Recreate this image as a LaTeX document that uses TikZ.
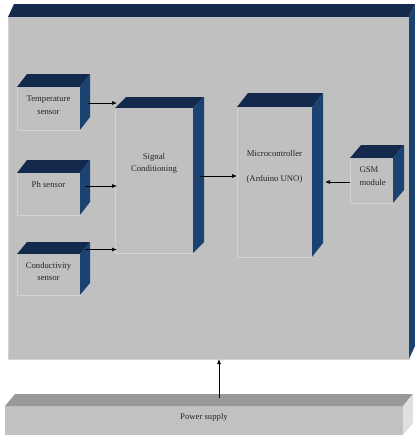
\documentclass[tikz,border=0pt]{standalone}
\usepackage{fontspec}
\setmainfont{Liberation Serif}
\usetikzlibrary{calc, arrows.meta}
\definecolor{boxfront}{HTML}{C0C0C0}
\definecolor{boxtop}{HTML}{142A4C}
\definecolor{boxside}{HTML}{1B4372}
\definecolor{boxedge}{HTML}{D4D4D4}

% top and right faces of a block: node, depth x, depth y, top colour, side colour
\newcommand{\blockfaces}[5]{%
  \fill[#4] (#1.north west) -- ++(#2,#3) -- ($(#1.north east)+(#2,#3)$) -- (#1.north east) -- cycle;
  \fill[#5] (#1.north east) -- ++(#2,#3) -- ($(#1.south east)+(#2,#3)$) -- (#1.south east) -- cycle;
}

\begin{document}
\begin{tikzpicture}[x=1pt, y=-1pt,
    face/.style={draw=boxedge, fill=boxfront, line width=0.6pt, outer sep=0pt, inner sep=0pt},
    lbl/.style={font=\fontsize{8.7}{12.5}\selectfont, align=center, text=black!85},
    arr/.style={-{Latex[length=5pt,width=4pt]}, line width=0.7pt}]
    \useasboundingbox (0,0) rectangle (415,437);
    % Board
    \node[face, minimum width=401pt, minimum height=342pt] (board) at (208.5,188) {};
    \blockfaces{board}{6}{-13}{boxtop}{boxside}
    % Sensors
    \node[face, minimum width=63pt, minimum height=43pt] (temp) at (48.5,108.5) {};
    \blockfaces{temp}{10}{-13}{boxtop}{boxside}
    \node[face, minimum width=63pt, minimum height=42pt] (ph) at (48.5,194) {};
    \blockfaces{ph}{10}{-13}{boxtop}{boxside}
    \node[face, minimum width=63pt, minimum height=41pt] (cond) at (48.5,274.5) {};
    \blockfaces{cond}{10}{-12}{boxtop}{boxside}
    % Signal conditioning, microcontroller, GSM
    \node[face, minimum width=78pt, minimum height=145pt] (sig) at (154,180.5) {};
    \blockfaces{sig}{11}{-11}{boxtop}{boxside}
    \node[face, minimum width=75pt, minimum height=150pt] (mcu) at (274.5,182) {};
    \blockfaces{mcu}{11}{-14}{boxtop}{boxside}
    \node[face, minimum width=43pt, minimum height=45pt] (gsm) at (371.5,180.5) {};
    \blockfaces{gsm}{11}{-13}{boxtop}{boxside}
    % Power supply
    \node[face, draw=none, fill=boxfront!98!white, minimum width=398pt, minimum height=29pt] (power) at (204,420.5) {};
    \blockfaces{power}{10}{-12}{black!40}{black!12}
    % Labels
    \node[lbl] (temptxt) at ([yshift=3.5pt]temp.center) {Temperature\\sensor};
    \node[lbl] (phtxt) at ([yshift=9pt]ph.center) {Ph sensor};
    \node[lbl] (condtxt) at ([yshift=3pt]cond.center) {Conductivity\\sensor};
    \node[lbl] (sigtxt) at ([yshift=17pt]sig.center) {Signal\\Conditioning};
    \node[lbl] (mcutxt) at ([yshift=15.5pt]mcu.center) {Microcontroller\\[12.5pt](Arduino UNO)};
    \node[lbl, align=left, anchor=west] (gsmtxt) at ([shift={(6,-4.5)}]gsm.west) {GSM\\module};
    \node[lbl] (powertxt) at ([yshift=3.5pt]power.center) {Power supply};
    % Arrows
    \draw[arr] ([shift={(8,-5.5)}]temp.east) -- ([shift={(2,-5.5)}]temp.east -| sig.west);
    \draw[arr] ([shift={(5,-8)}]ph.east) -- ([shift={(2,-8)}]ph.east -| sig.west);
    \draw[arr] ([shift={(5,-25)}]cond.east) -- ([shift={(2,-25)}]cond.east -| sig.west);
    \draw[arr] ([shift={(7,-4.5)}]sig.east) -- ([yshift=4.5pt]sig.east -| mcu.west);
    \draw[arr] ([yshift=-1.5pt]gsm.west) -- ([shift={(13,1.5)}]gsm.west -| mcu.east);
    \draw[arr] ([shift={(15,-8)}]power.north) -- ([xshift=15pt]power.north |- board.south);
\end{tikzpicture}
\end{document}
